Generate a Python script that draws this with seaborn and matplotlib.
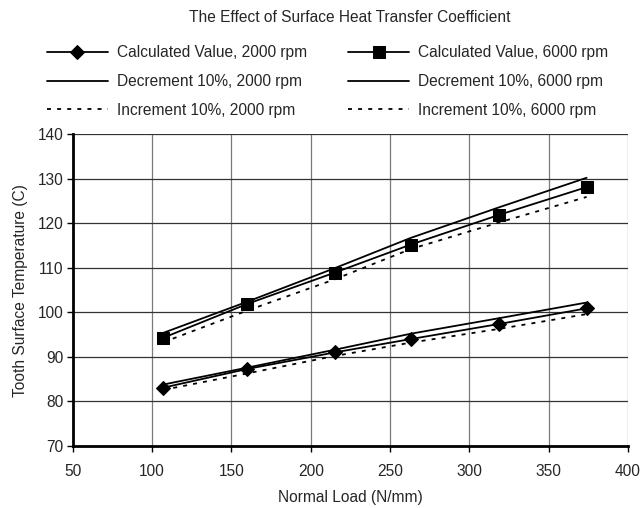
import matplotlib
matplotlib.use("Agg")
import matplotlib.pyplot as plt
import seaborn as sns
import pandas as pd

loads = [107, 160, 215, 263, 319, 374]
calc_2000 = [83.1, 87.3, 91.0, 94.0, 97.4, 100.9]
dec_2000 = [83.8, 87.6, 91.6, 95.2, 98.7, 102.2]
inc_2000 = [82.6, 86.3, 90.2, 93.2, 96.3, 99.6]
calc_6000 = [94.3, 101.9, 108.9, 115.2, 121.9, 128.1]
dec_6000 = [95.4, 102.4, 109.9, 116.7, 123.6, 130.2]
inc_6000 = [93.3, 100.4, 107.4, 114.2, 120.2, 125.9]

sns.set_theme(style="white")
plt.rcParams['font.family'] = ['Liberation Sans', 'DejaVu Sans']

FS = 11.2
fig = plt.figure(figsize=(6.4, 5.08), dpi=100)
ax = fig.add_axes([0.114, 0.122, 0.867, 0.614])

dash = (0, (2.2, 3.4))
series = [
    ("Calculated Value, 2000 rpm", calc_2000, dict(marker="D", markersize=7, linestyle="-")),
    ("Decrement 10%, 2000 rpm", dec_2000, dict(marker=None, linestyle="-")),
    ("Increment 10%, 2000 rpm", inc_2000, dict(marker=None, linestyle=dash)),
    ("Calculated Value, 6000 rpm", calc_6000, dict(marker="s", markersize=8, linestyle="-")),
    ("Decrement 10%, 6000 rpm", dec_6000, dict(marker=None, linestyle="-")),
    ("Increment 10%, 6000 rpm", inc_6000, dict(marker=None, linestyle=dash)),
]

for label, vals, kw in series:
    df = pd.DataFrame({"x": loads, "y": vals})
    sns.lineplot(data=df, x="x", y="y", ax=ax, color="black", linewidth=1.3,
                 label=label, markeredgecolor="black", markerfacecolor="black", **kw)

ax.set_xlim(50, 400)
ax.set_ylim(70, 140)
ax.set_xticks(range(50, 401, 50))
ax.set_yticks(range(70, 141, 10))
ax.tick_params(axis="both", labelsize=FS, length=4, width=1, color="black",
               direction="out", bottom=True, left=True)
ax.tick_params(axis="x", pad=9)
ax.tick_params(axis="y", pad=3)
for xv in range(100, 401, 50):
    ax.axvline(xv, color="#7a7a7a", linewidth=0.9, zorder=0)
for yv in range(80, 141, 10):
    ax.axhline(yv, color="#333333", linewidth=0.9, zorder=0)
for s in ["top", "right"]:
    ax.spines[s].set_visible(False)
ax.spines["left"].set_color("black")
ax.spines["left"].set_linewidth(2)
ax.spines["bottom"].set_color("black")
ax.spines["bottom"].set_linewidth(2)

ax.set_xlabel("Normal Load (N/mm)", fontsize=FS, labelpad=8)
ax.set_ylabel("Tooth Surface Temperature (C)", fontsize=FS, labelpad=7)

ax.legend_.remove()
handles, labels = ax.get_legend_handles_labels()
fig.legend(handles, labels, ncol=2, loc="upper left", bbox_to_anchor=(47 / 640, 1 - 45.5 / 508),
           frameon=False, fontsize=FS, handlelength=3.9, columnspacing=2.67,
           labelspacing=0.87, handletextpad=0.57, borderpad=0, borderaxespad=0)
fig.text(350 / 640, 1 - 18 / 508, "The Effect of Surface Heat Transfer Coefficient",
         ha="center", va="center", fontsize=FS)

fig.savefig("out.png", dpi=100)
